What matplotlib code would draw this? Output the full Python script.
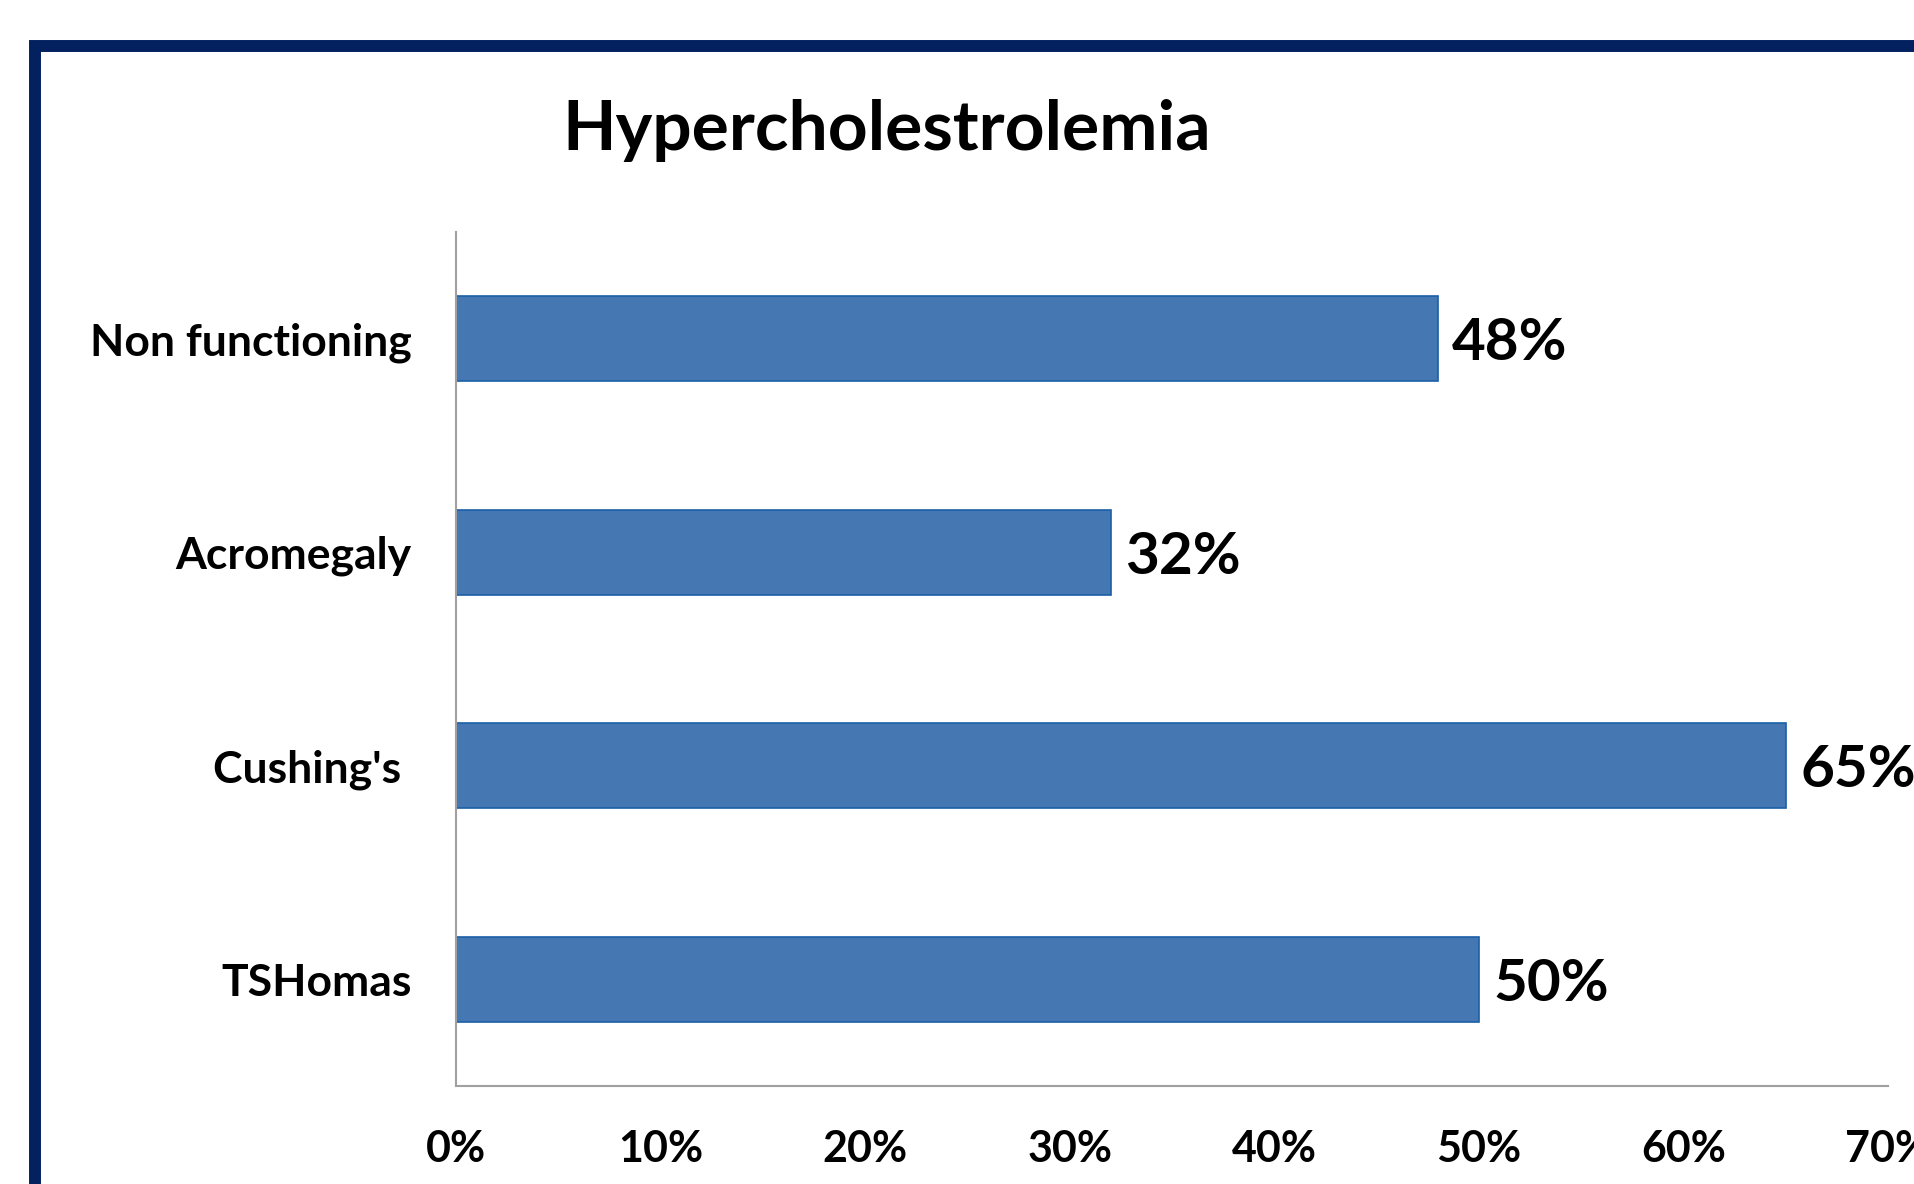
import matplotlib.pyplot as plt
from matplotlib.patches import Rectangle

categories = ["Non functioning", "Acromegaly", "Cushing's ", "TSHomas"]
values = [0.48, 0.32, 0.65, 0.50]
value_labels = ["48%", "32%", "65%", "50%"]
xticks = [0, 0.1, 0.2, 0.3, 0.4, 0.5, 0.6, 0.7]
xtick_labels = ["0%", "10%", "20%", "30%", "40%", "50%", "60%", "70%"]

plt.rcParams['font.family'] = ['Lato', 'DejaVu Sans']

W, H = 1914, 1184
fig = plt.figure(figsize=(W / 100, H / 100), dpi=100)

# navy frame, cut off at right and bottom
fig.patches.append(Rectangle((35 / W, -0.1), 1.2, 1.1 - 46 / H, transform=fig.transFigure,
                             fill=False, edgecolor='#03215f', linewidth=8.6))

ax = fig.add_axes([456 / W, 98 / H, 1432 / W, 854 / H])
ypos = list(range(len(categories)))
ax.barh(ypos, values, height=0.4, color='#4577b2', edgecolor='#1a5fa6', linewidth=1.2)
ax.set_ylim(3.5, -0.5)
ax.set_xlim(0, 0.7)

for y, v, lab in zip(ypos, values, value_labels):
    ax.text(v + 0.007, y, lab, va='center_baseline', ha='left', fontsize=42,
            fontweight='bold', clip_on=False)

ax.set_yticks(ypos)
ax.set_yticklabels(categories, fontsize=32, fontweight='bold')
ax.set_xticks(xticks)
ax.set_xticklabels(xtick_labels, fontsize=31, fontweight='bold')
ax.tick_params(length=0)
ax.tick_params(axis='y', pad=32)
ax.tick_params(axis='x', pad=31)

for s in ['top', 'right']:
    ax.spines[s].set_visible(False)
for s in ['left', 'bottom']:
    ax.spines[s].set_color('#a0a0a0')
    ax.spines[s].set_linewidth(1.5)

fig.text(887 / W, 1 - 131 / H, "Hypercholestrolemia", ha='center', va='center',
         fontsize=50, fontweight='bold')

fig.savefig('out.png', dpi=100)
